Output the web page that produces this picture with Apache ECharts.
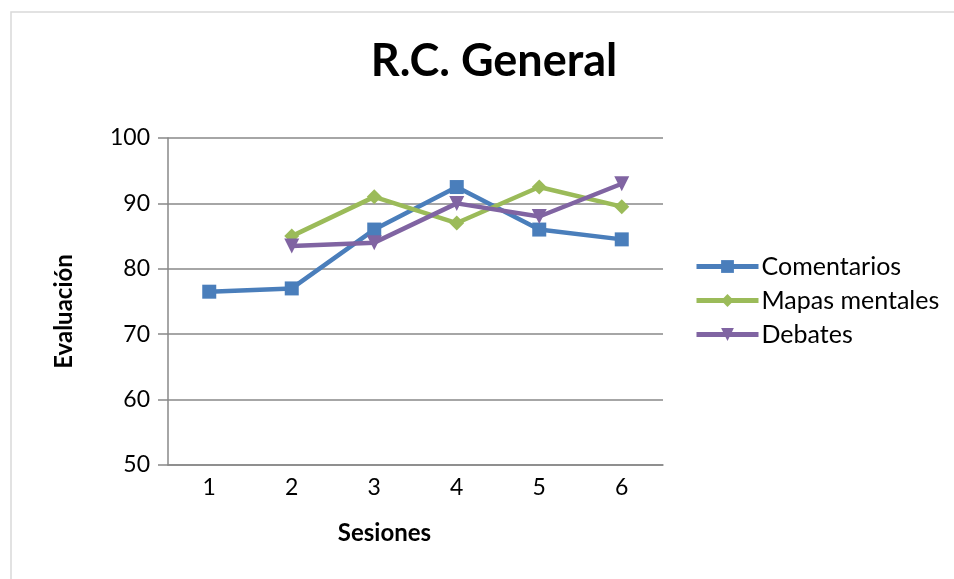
<!DOCTYPE html>
<html><head><meta charset="utf-8">
<script src="https://cdn.jsdelivr.net/npm/echarts@6/dist/echarts.min.js"></script>
<style>html,body{margin:0;padding:0;background:#fff}#c{width:954px;height:579px}</style>
</head><body><div id="c"></div>
<script>
const categories = ['1','2','3','4','5','6'];
const comentarios = [76.5, 77, 86, 92.5, 86, 84.5];
const mapasMentales = [null, 85, 91, 87, 92.5, 89.5];
const debates = [null, 83.5, 84, 90, 88, 93];
const seriesNames = ['Comentarios','Mapas mentales','Debates'];

const FONT = 'Lato, "Noto Sans", sans-serif';
const chart = echarts.init(document.getElementById('c'));
function mk(name, data, color, symbol, size, rot){
  return {name, type:'line', data, symbol, symbolSize:size, symbolRotate:rot||0, connectNulls:false,
    lineStyle:{color, width:4.5}, itemStyle:{color}, emphasis:{disabled:true}, animation:false};
}
chart.setOption({
  animation:false,
  backgroundColor:'#fff',
  graphic:[{type:'rect', shape:{x:11,y:12,width:960,height:600}, style:{fill:'none', stroke:'#d9d9d9', lineWidth:1.5}, z:-1}],
  title:{text:'R.C. General', left:489, top:34, textAlign:'center',
    textStyle:{fontFamily:FONT, fontSize:45, fontWeight:'bold', color:'#000'}},
  legend:{orient:'vertical', left:689, top:249, itemWidth:62, itemHeight:16, itemGap:9,
    lineStyle:{width:5},
    data:seriesNames, textStyle:{fontFamily:FONT, fontSize:25, color:'#000', padding:[0,0,0,-2]}},
  grid:{left:168, right:291, top:138, bottom:114},
  xAxis:{type:'category', data:categories, boundaryGap:true,
    name:'Sesiones', nameLocation:'middle', nameGap:56,
    nameTextStyle:{fontFamily:FONT, fontSize:24, fontWeight:'bold', color:'#000', padding:[0,62,0,0]},
    axisLine:{lineStyle:{color:'#888', width:1.5}}, axisTick:{show:false},
    axisLabel:{fontFamily:FONT, fontSize:23, color:'#000', margin:11}},
  yAxis:{type:'value', min:50, max:100, interval:10,
    name:'Evaluación', nameLocation:'middle', nameGap:92,
    nameTextStyle:{fontFamily:FONT, fontSize:24, fontWeight:'bold', color:'#000', padding:[0,20,0,0]},
    axisLine:{show:true, lineStyle:{color:'#888', width:1.5}},
    axisTick:{show:true, length:10, lineStyle:{color:'#888', width:1.5}},
    splitLine:{lineStyle:{color:'#888', width:1.5}},
    axisLabel:{fontFamily:FONT, fontSize:23, color:'#000', margin:18}},
  series:[
    mk(seriesNames[0], comentarios, '#4a7ebb', 'rect', 14),
    mk(seriesNames[1], mapasMentales, '#9bbb59', 'diamond', 15),
    mk(seriesNames[2], debates, '#8064a2', 'triangle', 15, 180)
  ]
});
</script></body></html>
